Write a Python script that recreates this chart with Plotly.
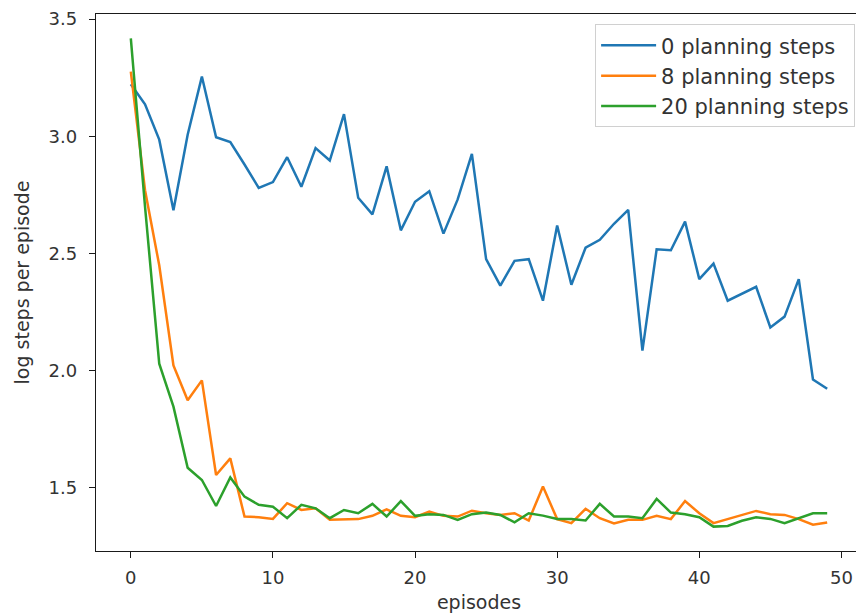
import plotly.graph_objects as go

episodes = list(range(50))

steps_0 = [3.222, 3.137, 2.986, 2.685, 3.007, 3.255, 2.996, 2.976, 2.880, 2.780,
           2.805, 2.911, 2.785, 2.950, 2.897, 3.095, 2.738, 2.667, 2.872, 2.599,
           2.721, 2.766, 2.585, 2.731, 2.925, 2.476, 2.363, 2.469, 2.476, 2.299,
           2.620, 2.367, 2.525, 2.559, 2.627, 2.686, 2.086, 2.518, 2.514, 2.636,
           2.391, 2.457, 2.299, 2.327, 2.358, 2.185, 2.231, 2.391, 1.963, 1.923]

steps_8 = [3.276, 2.770, 2.450, 2.023, 1.874, 1.959, 1.555, 1.626, 1.378, 1.375,
           1.368, 1.435, 1.406, 1.413, 1.364, 1.364, 1.367, 1.381, 1.409, 1.381,
           1.375, 1.399, 1.381, 1.378, 1.403, 1.392, 1.385, 1.392, 1.361, 1.506,
           1.367, 1.350, 1.411, 1.371, 1.349, 1.364, 1.364, 1.381, 1.367, 1.444,
           1.392, 1.350, 1.367, 1.385, 1.402, 1.388, 1.385, 1.367, 1.343, 1.353]

steps_20 = [3.418, 2.700, 2.030, 1.847, 1.586, 1.534, 1.423, 1.545, 1.463, 1.428,
            1.420, 1.371, 1.428, 1.413, 1.371, 1.406, 1.392, 1.432, 1.378, 1.444,
            1.381, 1.388, 1.385, 1.364, 1.388, 1.395, 1.385, 1.353, 1.392, 1.382,
            1.368, 1.368, 1.361, 1.432, 1.378, 1.378, 1.371, 1.453, 1.395, 1.388,
            1.375, 1.335, 1.338, 1.360, 1.375, 1.368, 1.350, 1.371, 1.392, 1.392]

series_names = ["0 planning steps", "8 planning steps", "20 planning steps"]
colors = ["#1f77b4", "#ff7f0e", "#2ca02c"]
x_ticks = [0, 10, 20, 30, 40, 50]
y_ticks = [1.5, 2.0, 2.5, 3.0, 3.5]

fig = go.Figure()
for name, ys, c in zip(series_names, [steps_0, steps_8, steps_20], colors):
    fig.add_trace(go.Scatter(x=episodes, y=ys, mode="lines", name=name,
                             line=dict(color=c, width=2.5)))

axis_common = dict(showline=True, linecolor="#1a1a1a", linewidth=1.3, mirror=True,
                   ticks="outside", ticklen=6, tickwidth=1.3, tickcolor="#1a1a1a",
                   showgrid=False, zeroline=False, automargin=False,
                   tickfont=dict(family="DejaVu Sans", size=18, color="#333"))

# The page body adds an 8px offset; size and margins compensate for it.
fig.update_layout(
    width=856, height=608,
    margin=dict(l=88, r=2, t=6, b=65, autoexpand=False),
    paper_bgcolor="white", plot_bgcolor="white",
    font=dict(family="DejaVu Sans", color="#333"),
    xaxis=dict(range=[-2.45, 51.45], tickvals=x_ticks, ticklabelstandoff=4,
               title=dict(text="episodes", font=dict(size=19, family="DejaVu Sans"), standoff=8),
               **axis_common),
    yaxis=dict(range=[1.231, 3.522], tickvals=y_ticks, tickformat=".1f", ticklabelstandoff=8,
               title=dict(text="log steps per episode", font=dict(size=19, family="DejaVu Sans"), standoff=13),
               **axis_common),
    legend=dict(x=0.991, y=0.981, xanchor="right", yanchor="top",
                bgcolor="rgba(255,255,255,0.8)", bordercolor="#d0d0d0", borderwidth=1,
                font=dict(family="DejaVu Sans", size=21, color="#333"),
                itemwidth=55, tracegroupgap=0),
    showlegend=True,
)

fig.write_html("out.html")
